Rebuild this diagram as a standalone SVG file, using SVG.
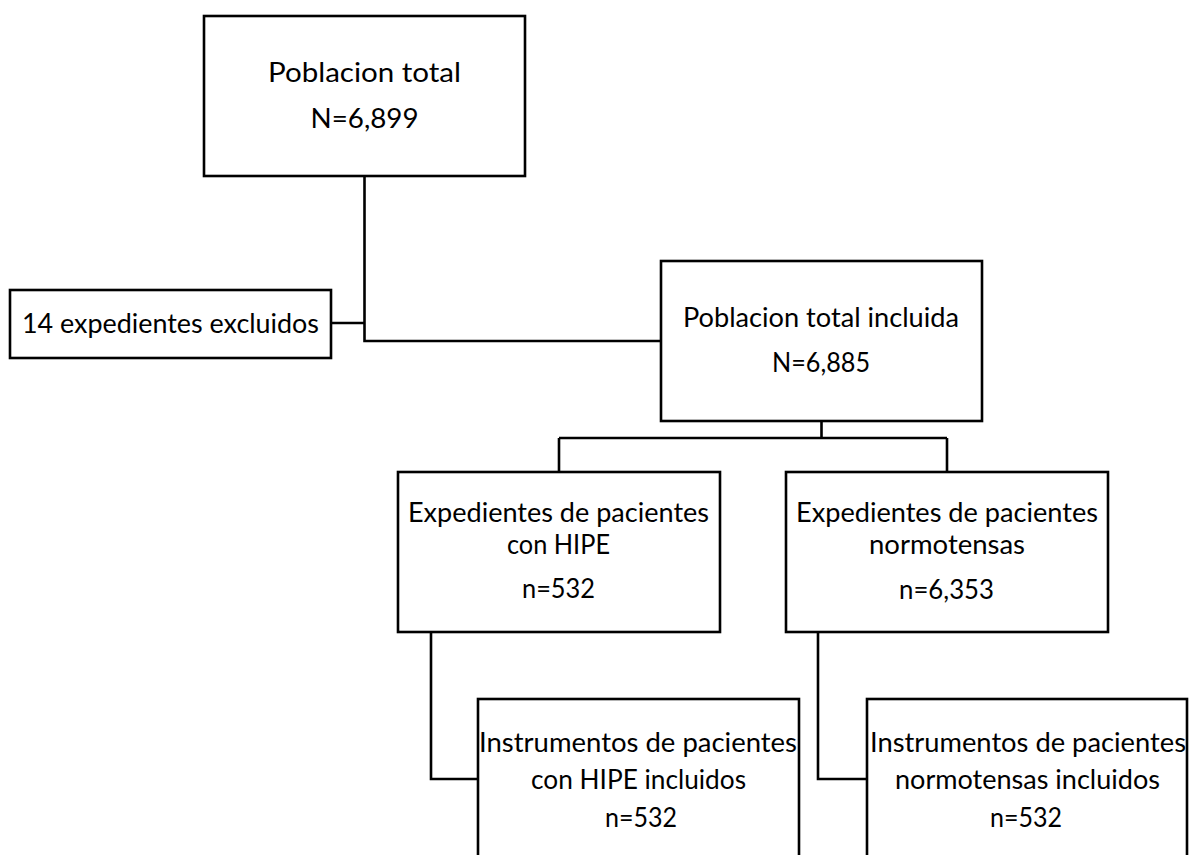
<svg xmlns="http://www.w3.org/2000/svg" width="1190" height="855" viewBox="0 0 1190 855">
<style>
.box{fill:#fff;stroke:#000;stroke-width:2.6}
.con{fill:none;stroke:#000;stroke-width:2.6}
text{font-family:Lato,"Open Sans","Liberation Sans",sans-serif;font-size:26px;fill:#000;text-anchor:middle}
</style>
<rect width="1190" height="855" fill="#fff"/>
<g id="connectors">
<path class="con" d="M364.5 176 V341 H661"/>
<path class="con" d="M331 323 H364.5"/>
<path class="con" d="M821.5 421 V438 M559 438 H947 M559 438 V472 M947 438 V472"/>
<path class="con" d="M431 632 V779 H478"/>
<path class="con" d="M818 632 V779 H867"/>
</g>
<g id="n1">
<rect class="box" x="204" y="16" width="321" height="160"/>
<text x="364.5" y="82" textLength="193" lengthAdjust="spacingAndGlyphs">Poblacion total</text>
<text x="364.5" y="128" textLength="108" lengthAdjust="spacingAndGlyphs">N=6,899</text>
</g>
<g id="n2">
<rect class="box" x="10" y="290" width="321" height="68"/>
<text x="170.5" y="333" textLength="297" lengthAdjust="spacingAndGlyphs">14 expedientes excluidos</text>
</g>
<g id="n3">
<rect class="box" x="661" y="261" width="321" height="160"/>
<text x="821" y="327" textLength="276" lengthAdjust="spacingAndGlyphs">Poblacion total incluida</text>
<text x="821" y="372" textLength="98" lengthAdjust="spacingAndGlyphs">N=6,885</text>
</g>
<g id="n4">
<rect class="box" x="398" y="472" width="322" height="160"/>
<text x="558.5" y="522" textLength="301" lengthAdjust="spacingAndGlyphs">Expedientes de pacientes</text>
<text x="558.5" y="554" textLength="103" lengthAdjust="spacingAndGlyphs">con HIPE</text>
<text x="558.5" y="598" textLength="73" lengthAdjust="spacingAndGlyphs">n=532</text>
</g>
<g id="n5">
<rect class="box" x="786" y="472" width="322" height="160"/>
<text x="947" y="522" textLength="302" lengthAdjust="spacingAndGlyphs">Expedientes de pacientes</text>
<text x="947" y="554" textLength="156" lengthAdjust="spacingAndGlyphs">normotensas</text>
<text x="946.5" y="599" textLength="95" lengthAdjust="spacingAndGlyphs">n=6,353</text>
</g>
<g id="n6">
<rect class="box" x="478" y="699" width="321" height="170"/>
<text x="638" y="752" textLength="318" lengthAdjust="spacingAndGlyphs">Instrumentos de pacientes</text>
<text x="638.5" y="789" textLength="215" lengthAdjust="spacingAndGlyphs">con HIPE incluidos</text>
<text x="641" y="827" textLength="72" lengthAdjust="spacingAndGlyphs">n=532</text>
</g>
<g id="n7">
<rect class="box" x="867" y="699" width="320" height="170"/>
<text x="1028" y="752" textLength="316" lengthAdjust="spacingAndGlyphs">Instrumentos de pacientes</text>
<text x="1027.5" y="789" textLength="265" lengthAdjust="spacingAndGlyphs">normotensas incluidos</text>
<text x="1026" y="827" textLength="72" lengthAdjust="spacingAndGlyphs">n=532</text>
</g>
</svg>
